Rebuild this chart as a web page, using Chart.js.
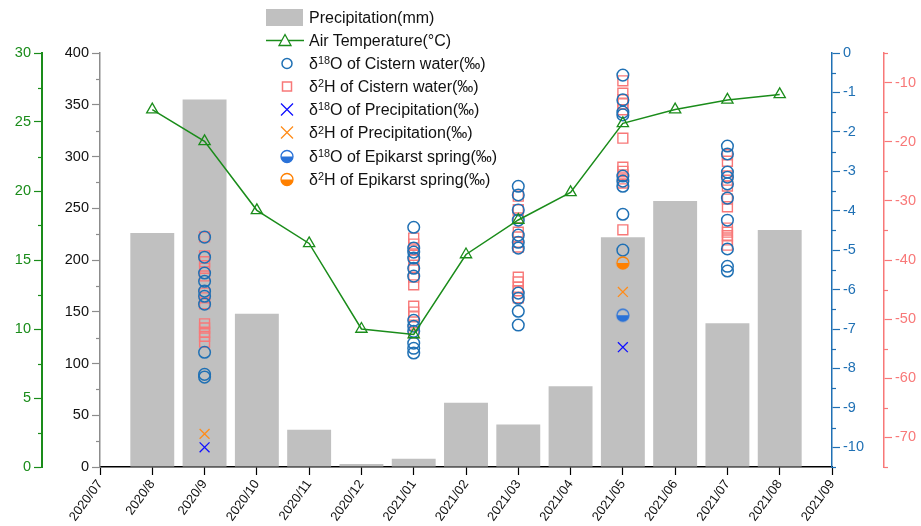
<!DOCTYPE html>
<html><head><meta charset="utf-8">
<script src="https://cdn.jsdelivr.net/npm/chart.js@4/dist/chart.umd.min.js"></script>
<style>
html,body{margin:0;padding:0;background:#fff;}
#wrap{position:relative;width:921px;height:526px;}
#legend{position:absolute;left:264px;top:6px;font-family:'Liberation Sans',Arial,sans-serif;font-size:16px;color:#111;}
.row{position:relative;height:23.1px;line-height:23px;padding-left:45px;white-space:nowrap;}
.row svg{position:absolute;left:0;top:0;}
sup{font-size:0.68em;position:relative;top:-0.45em;vertical-align:baseline;line-height:0;}
</style></head>
<body>
<div id="wrap">
<canvas id="c" width="921" height="526"></canvas>
<div id="legend">
 <div class="row"><svg width="42" height="23"><rect x="2" y="3" width="37" height="17" fill="#c0c0c0"/></svg>Precipitation(mm)</div>
 <div class="row"><svg width="42" height="23"><line x1="2" y1="11.5" x2="40" y2="11.5" stroke="#1a8c1a" stroke-width="1.5"/><polygon points="21,5.5 27,16.5 15,16.5" fill="#fff" stroke="#1a8c1a" stroke-width="1.3"/></svg>Air Temperature(°C)</div>
 <div class="row"><svg width="42" height="23"><circle cx="23" cy="11.5" r="5" fill="none" stroke="#1f70b4" stroke-width="1.5"/></svg>δ<sup>18</sup>O of Cistern water(‰)</div>
 <div class="row"><svg width="42" height="23"><rect x="18.5" y="7" width="9" height="9" fill="none" stroke="#f87878" stroke-width="1.5"/></svg>δ<sup>2</sup>H of Cistern water(‰)</div>
 <div class="row"><svg width="42" height="23"><path d="M17 5.5 L29 17.5 M29 5.5 L17 17.5" stroke="#1010ff" stroke-width="1.3"/></svg>δ<sup>18</sup>O of Precipitation(‰)</div>
 <div class="row"><svg width="42" height="23"><path d="M17 5.5 L29 17.5 M29 5.5 L17 17.5" stroke="#ff8c1a" stroke-width="1.3"/></svg>δ<sup>2</sup>H of Precipitation(‰)</div>
 <div class="row"><svg width="42" height="23"><path d="M17 11.5 A6 6 0 0 0 29 11.5 Z" fill="#2a72d8"/><circle cx="23" cy="11.5" r="6" fill="none" stroke="#2a72d8" stroke-width="1.3"/></svg>δ<sup>18</sup>O of Epikarst spring(‰)</div>
 <div class="row"><svg width="42" height="23"><path d="M17 11.5 A6 6 0 0 0 29 11.5 Z" fill="#ff8000"/><circle cx="23" cy="11.5" r="6" fill="none" stroke="#ff8000" stroke-width="1.3"/></svg>δ<sup>2</sup>H of Epikarst spring(‰)</div>
</div>
</div>
<script>
// ---------- data ----------
const months = ['2020/07','2020/8','2020/9','2020/10','2020/11','2020/12','2021/01','2021/02','2021/03','2021/04','2021/05','2021/06','2021/07','2021/08','2021/09'];
const barMonthIdx = [1,2,3,4,5,6,7,8,9,10,11,12,13];
const precipitation = [226,355,148,36,3,8,62,41,78,222,257,139,229];
const temperature = [25.9,23.6,18.6,16.2,10.0,9.6,15.4,17.9,19.9,24.9,25.9,26.6,27.0];

const cisternMonthIdx = [2,6,8,10,12];
const cistern18O_2020_09 = [-4.67,-5.18,-5.58,-5.79,-6.04,-6.17,-6.37,-7.59,-8.15,-8.22];
const cistern18O_2021_01 = [-4.42,-4.95,-5.05,-5.20,-5.46,-5.66,-6.78,-6.93,-7.06,-7.36,-7.49,-7.61];
const cistern18O_2021_03 = [-3.38,-3.60,-3.98,-4.24,-4.62,-4.80,-4.95,-6.09,-6.22,-6.55,-6.90];
const cistern18O_2021_05 = [-0.56,-1.19,-1.50,-1.57,-3.12,-3.25,-3.38,-4.09,-5.00];
const cistern18O_2021_07 = [-2.36,-2.56,-3.02,-3.15,-3.32,-3.68,-4.24,-4.97,-5.41,-5.53];
const cistern2H_2020_09 = [-36.1,-39.3,-40.3,-41.4,-42.7,-45.6,-46.4,-47.4,-50.8,-51.5,-52.2,-52.9,-53.9];
const cistern2H_2021_01 = [-36.3,-37.3,-38.3,-39.2,-40.0,-41.4,-42.9,-44.2,-47.8,-48.8,-49.6,-51.0,-52.3];
const cistern2H_2021_03 = [-29.2,-31.5,-32.9,-35.3,-36.1,-37.0,-37.8,-42.9,-43.7,-44.6,-45.2,-46.4];
const cistern2H_2021_05 = [-9.7,-11.8,-12.9,-13.6,-14.6,-19.4,-24.3,-25.0,-25.6,-26.3,-27.0,-34.9];
const cistern2H_2021_07 = [-22.2,-23.3,-25.8,-26.5,-27.5,-29.7,-31.0,-34.6,-35.3,-35.9,-36.6,-37.5];

const precipIsoMonthIdx = [2,10];
const precip18O = [-10.0,-7.46];
const precip2H = [-69.4,-45.4];

const springMonthIdx = [10];
const spring18O = [-6.65];
const spring2H = [-40.5];

// tick labels
const tempTicks = [0,5,10,15,20,25,30];
const precipTicks = [0,50,100,150,200,250,300,350,400];
const d18Ticks = [0,-1,-2,-3,-4,-5,-6,-7,-8,-9,-10];
const d2Ticks = [-10,-20,-30,-40,-50,-60,-70];
const tempMinor = [2.5,7.5,12.5,17.5,22.5,27.5];
const precipMinor = [25,75,125,175,225,275,325,375];
const d18Minor = [-0.5,-1.5,-2.5,-3.5,-4.5,-5.5,-6.5,-7.5,-8.5,-9.5,-10.5];
const d2Minor = [-5,-15,-25,-35,-45,-55,-65,-75];

// ---------- helpers ----------
const GREEN='#1a8c1a', BLUE='#1f70b4', RED='#f87878', GRAY='#c0c0c0';
const cistern18 = [cistern18O_2020_09,cistern18O_2021_01,cistern18O_2021_03,cistern18O_2021_05,cistern18O_2021_07];
const cistern2 = [cistern2H_2020_09,cistern2H_2021_01,cistern2H_2021_03,cistern2H_2021_05,cistern2H_2021_07];
function flatPts(idx, groups){ const out=[]; groups.forEach((g,i)=>g.forEach(v=>out.push({x:idx[i],y:v}))); return out; }
function pairPts(idx, vals){ return vals.map((v,i)=>({x:idx[i],y:v})); }
function halfCircle(color){
  const c=document.createElement('canvas'); c.width=16; c.height=16;
  const g=c.getContext('2d');
  g.beginPath(); g.arc(8,8,6,0,Math.PI); g.closePath(); g.fillStyle=color; g.fill();
  g.beginPath(); g.arc(8,8,6,0,Math.PI*2); g.lineWidth=1.3; g.strokeStyle=color; g.stroke();
  return c;
}
const FONT="'Liberation Sans', Arial, sans-serif";

const minorTicks = {
  id:'minorTicks',
  afterDraw(chart){
    const ctx=chart.ctx;
    const specs=[['yTemp',tempMinor,GREEN],['yPrecip',precipMinor,'#8c8c8c'],['y18',d18Minor,BLUE],['y2',d2Minor,RED]];
    ctx.save();
    specs.forEach(([id,vals,col])=>{
      const s=chart.scales[id];
      ctx.strokeStyle=col; ctx.lineWidth=1.2;
      vals.forEach(v=>{
        const y=Math.round(s.getPixelForValue(v))+0.5;
        ctx.beginPath();
        if(s.position==='left'){ ctx.moveTo(s.right-4,y); ctx.lineTo(s.right,y); }
        else { ctx.moveTo(s.left,y); ctx.lineTo(s.left+4,y); }
        ctx.stroke();
      });
    });
    ctx.restore();
  }
};

function yAxis(pos, weight, min, max, ticksArr, borderColor, width, labelColor){
  return {
    position:pos, weight:weight, min:min, max:max,
    afterBuildTicks:s=>{ s.ticks = ticksArr.map(v=>({value:v})); },
    afterFit:s=>{ s.width=width; },
    ticks:{ color:labelColor, font:{family:FONT,size:14.5}, padding:3, callback:v=>String(v) },
    grid:{ drawOnChartArea:false, drawTicks:true, tickLength:8, color:borderColor, tickColor:borderColor, tickWidth:1.2 },
    border:{ display:true, color:borderColor, width: pos==='left' && weight===1 ? 2 : 1.5 }
  };
}

new Chart(document.getElementById('c'), {
  type:'bar',
  data:{ datasets:[
    { type:'line', label:'Air Temperature(°C)', data:pairPts(barMonthIdx,temperature), yAxisID:'yTemp', xAxisID:'x',
      borderColor:GREEN, borderWidth:1.5, pointStyle:'triangle', pointRadius:6.5, pointBorderWidth:1.3,
      pointBackgroundColor:'rgba(255,255,255,0)', pointBorderColor:GREEN, order:1, tension:0 },
    { type:'line', showLine:false, label:'δ18O of Precipitation(‰)', data:pairPts(precipIsoMonthIdx,precip18O), yAxisID:'y18',
      pointStyle:'cross', rotation:45, pointRadius:7, pointBorderWidth:1.3, pointBorderColor:'#1010ff', pointBackgroundColor:'#1010ff', order:2 },
    { type:'line', showLine:false, label:'δ2H of Precipitation(‰)', data:pairPts(precipIsoMonthIdx,precip2H), yAxisID:'y2',
      pointStyle:'cross', rotation:45, pointRadius:7, pointBorderWidth:1.3, pointBorderColor:'#ff8c1a', pointBackgroundColor:'#ff8c1a', order:2 },
    { type:'line', showLine:false, label:'δ18O of Epikarst spring(‰)', data:pairPts(springMonthIdx,spring18O), yAxisID:'y18',
      pointStyle:halfCircle('#2a72d8'), order:2 },
    { type:'line', showLine:false, label:'δ2H of Epikarst spring(‰)', data:pairPts(springMonthIdx,spring2H), yAxisID:'y2',
      pointStyle:halfCircle('#ff8000'), order:2 },
    { type:'line', showLine:false, label:'δ2H of Cistern water(‰)', data:flatPts(cisternMonthIdx,cistern2), yAxisID:'y2',
      pointStyle:'rect', pointRadius:7, pointBorderWidth:1.4, pointBorderColor:RED, pointBackgroundColor:'rgba(0,0,0,0)', order:4 },
    { type:'line', showLine:false, label:'δ18O of Cistern water(‰)', data:flatPts(cisternMonthIdx,cistern18), yAxisID:'y18',
      pointStyle:'circle', pointRadius:5.8, pointBorderWidth:1.5, pointBorderColor:BLUE, pointBackgroundColor:'rgba(0,0,0,0)', order:3 },
    { type:'bar', label:'Precipitation(mm)', data:pairPts(barMonthIdx,precipitation), yAxisID:'yPrecip',
      backgroundColor:GRAY, borderWidth:0, barPercentage:0.84, categoryPercentage:1, order:10 }
  ]},
  options:{
    responsive:false, animation:false, events:[],
    layout:{ padding:{ top:53, left:0, right:0, bottom:0 } },
    plugins:{ legend:{display:false}, tooltip:{enabled:false} },
    scales:{
      x:{ type:'linear', min:0, max:14, offset:false,
        afterBuildTicks:s=>{ s.ticks = months.map((m,i)=>({value:i})); },
        afterFit:s=>{ s.height=59; },
        ticks:{ callback:v=>months[v], minRotation:54, maxRotation:54, autoSkip:false, color:'#111', font:{family:FONT,size:13}, padding:2 },
        grid:{ offset:false, drawOnChartArea:false, tickLength:8, color:'#000', tickColor:'#000', tickWidth:1.2 },
        border:{ color:'#000', width:1.5 } },
      yTemp: yAxis('left',1,0,30,tempTicks,GREEN,42,GREEN),
      yPrecip: yAxis('left',0,0,400,precipTicks,'#8c8c8c',58,'#111'),
      y18: yAxis('right',0,-10.5,0,d18Ticks,BLUE,52,BLUE),
      y2: yAxis('right',1,-75,-5,d2Ticks,RED,37,RED)
    }
  },
  plugins:[minorTicks]
});
</script>
</body></html>
